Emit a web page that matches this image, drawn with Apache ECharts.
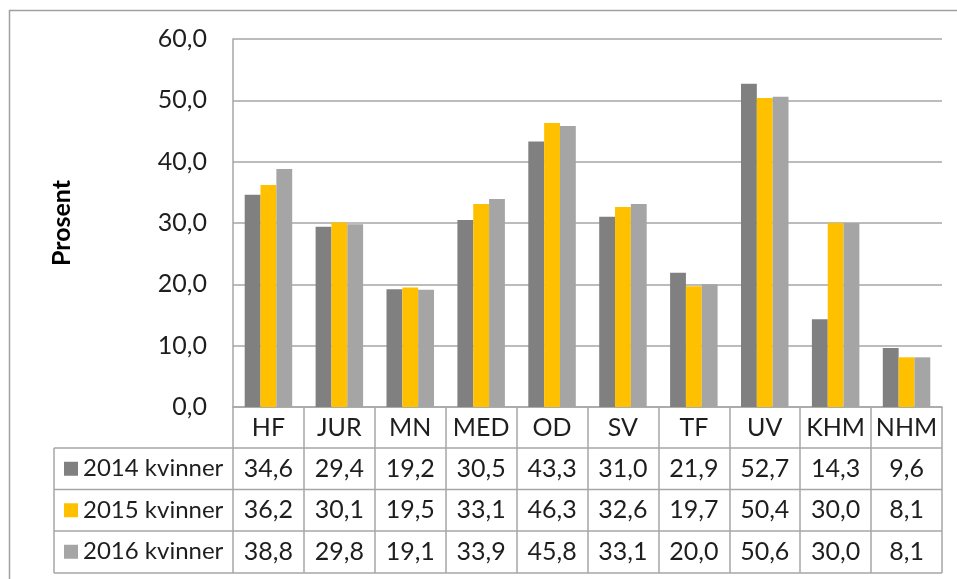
<!DOCTYPE html>
<html>
<head>
<meta charset="utf-8">
<script src="https://cdn.jsdelivr.net/npm/echarts@6/dist/echarts.min.js"></script>
<style>
html,body{margin:0;padding:0;background:#fff;}
#chart{width:957px;height:579px;}
</style>
</head>
<body>
<div id="chart"></div>
<script>
const categories = ['HF','JUR','MN','MED','OD','SV','TF','UV','KHM','NHM'];
const seriesNames = ['2014 kvinner','2015 kvinner','2016 kvinner'];
const v2014 = [34.6,29.4,19.2,30.5,43.3,31.0,21.9,52.7,14.3,9.6];
const v2015 = [36.2,30.1,19.5,33.1,46.3,32.6,19.7,50.4,30.0,8.1];
const v2016 = [38.8,29.8,19.1,33.9,45.8,33.1,20.0,50.6,30.0,8.1];
const yTicks = [0,10,20,30,40,50,60];

const colors = ['#808080','#FFC000','#A5A5A5'];
const FONT = 'Lato';
const FS = 25;
const TXT = '#1e1e1e';
const LINE = '#a6a6a6';
const fmt = v => v.toFixed(1).replace('.', ',');
const rows = [v2014, v2015, v2016];

const chart = echarts.init(document.getElementById('chart'), null, {renderer:'canvas'});

const xAxes = [{
  type:'category', data:categories, position:'bottom', gridIndex:0,
  axisLine:{show:true, lineStyle:{color:LINE, width:1.5}},
  axisTick:{show:true, length:166, interval:0, lineStyle:{color:LINE, width:1.5}},
  axisLabel:{fontFamily:FONT, fontSize:FS, color:TXT, margin:0, lineHeight:41, interval:0},
  splitLine:{show:false}
}];
const offsets = [41, 82.5, 124];
rows.forEach((arr, r) => {
  xAxes.push({
    type:'category', data:categories, position:'bottom', gridIndex:0, offset:offsets[r],
    axisLine:{show:false}, axisTick:{show:false}, splitLine:{show:false},
    axisLabel:{fontFamily:FONT, fontSize:FS, color:TXT, margin:0, lineHeight:41.5, interval:0,
      formatter:(v, i) => fmt(arr[i])}
  });
});

const tableY = [448, 489.5, 531, 573];
const graphics = [
  {type:'rect', shape:{x:9.5, y:10.5, width:1000, height:700}, style:{fill:'none', stroke:'#a0a0a0', lineWidth:1.5}, silent:true},
  {type:'line', shape:{x1:54, y1:448, x2:54, y2:573}, style:{stroke:LINE, lineWidth:1.5}, silent:true}
];
tableY.forEach(y => graphics.push({type:'line', shape:{x1:54, y1:y, x2:942, y2:y}, style:{stroke:LINE, lineWidth:1.5}, silent:true}));

const legends = seriesNames.map((n, i) => ({
  show:true, orient:'vertical', left:64, top:tableY[i], itemGap:0, padding:0,
  itemWidth:14, itemHeight:14, icon:'rect', data:[n],
  textStyle:{fontFamily:FONT, fontSize:24, color:TXT, lineHeight:41.5},
  selectedMode:false
}));

chart.setOption({
  animation:false,
  backgroundColor:'#fff',
  color:colors,
  grid:{left:233, right:15, top:39, bottom:172, containLabel:false},
  legend:legends,
  xAxis:xAxes,
  yAxis:{
    type:'value', min:yTicks[0], max:yTicks[yTicks.length-1], interval:10,
    name:'Prosent', nameLocation:'middle', nameRotate:90, nameGap:159,
    nameTextStyle:{fontFamily:FONT, fontSize:25, fontWeight:'bold', color:'#000'},
    axisLine:{show:true, lineStyle:{color:LINE, width:1.5}},
    axisTick:{show:false},
    axisLabel:{fontFamily:FONT, fontSize:FS, color:TXT, margin:26, formatter:v => fmt(v)},
    splitLine:{show:true, lineStyle:{color:LINE, width:1.5}}
  },
  series:[
    {name:seriesNames[0], type:'bar', data:v2014, barGap:'0%', barCategoryGap:'33%'},
    {name:seriesNames[1], type:'bar', data:v2015, barGap:'0%', barCategoryGap:'33%'},
    {name:seriesNames[2], type:'bar', data:v2016, barGap:'0%', barCategoryGap:'33%'}
  ],
  graphic:graphics
});
</script>
</body>
</html>
